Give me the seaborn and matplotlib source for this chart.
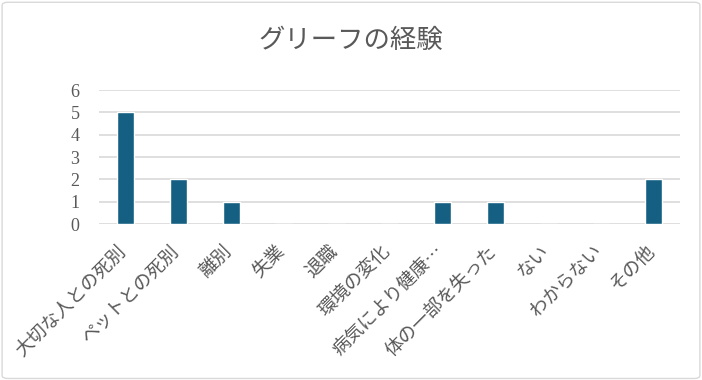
import matplotlib
matplotlib.use('Agg')
import matplotlib.pyplot as plt
import matplotlib.transforms as mtransforms
import seaborn as sns
import pandas as pd
from matplotlib.patches import FancyBboxPatch

categories = ['大切な人との死別', 'ペットとの死別', '離別', '失業', '退職', '環境の変化',
              '病気により健康…', '体の一部を失った', 'ない', 'わからない', 'その他']
counts = [5, 2, 1, 0, 0, 0, 1, 1, 0, 0, 2]

df = pd.DataFrame({'category': categories, 'count': counts})

sns.set_style('white')
plt.rcParams['font.family'] = ['Noto Sans CJK JP', 'DejaVu Sans']

fig = plt.figure(figsize=(7.02, 3.8), dpi=100)
ax = fig.add_axes([0.141, 0.4105, 0.828, 0.3525])

sns.barplot(data=df, x='category', y='count', color='#156082', width=0.32,
            saturation=1, ax=ax)

ax.set_ylim(0, 6)
ax.set_yticks(range(0, 7))
ax.yaxis.grid(True, color='#d9d9d9', linewidth=1.2)
ax.set_axisbelow(True)
for s in ax.spines.values():
    s.set_visible(False)
ax.set_xlabel('')
ax.set_ylabel('')
ax.tick_params(axis='both', length=0, colors='#595959')
ax.tick_params(axis='y', pad=14)
ax.tick_params(axis='x', pad=13, labelsize=13.3)
for lab in ax.get_yticklabels():
    lab.set_family(['Liberation Serif', 'DejaVu Serif'])
    lab.set_fontsize(13)
plt.setp(ax.get_xticklabels(), rotation=45, ha='right', rotation_mode='anchor')
# nudge the rotated labels a little to the left
offset = mtransforms.ScaledTranslation(-6 / 72, 0, fig.dpi_scale_trans)
for lab in ax.get_xticklabels():
    lab.set_transform(lab.get_transform() + offset)
ax.set_xlim(-0.5, len(categories) - 0.5)

fig.text(0.5, 0.893, 'グリーフの経験', ha='center', va='center', fontsize=19, color='#595959')

border = FancyBboxPatch((0.003, 0.004), 0.994, 0.99, boxstyle='round,pad=0,rounding_size=0.008',
                        transform=fig.transFigure, fill=False, edgecolor='#d9d9d9', linewidth=1)
fig.patches.append(border)

fig.savefig('out.png', dpi=100)
